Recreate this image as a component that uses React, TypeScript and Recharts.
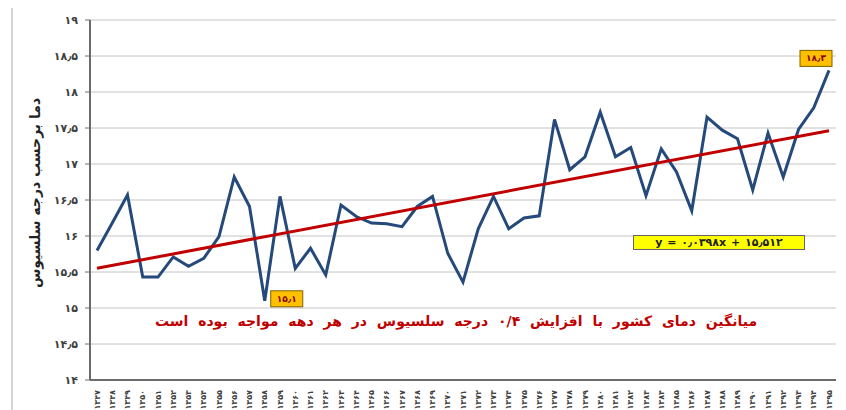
import { LineChart, Line, XAxis, YAxis, CartesianGrid, ReferenceLine } from "recharts";

const years = [
  1347, 1348, 1349, 1350, 1351, 1352, 1353, 1354, 1355, 1356, 1357, 1358, 1359, 1360, 1361, 1362, 1363,
  1364, 1365, 1366, 1367, 1368, 1369, 1370, 1371, 1372, 1373, 1374, 1375, 1376, 1377, 1378, 1379, 1380,
  1381, 1382, 1383, 1384, 1385, 1386, 1387, 1388, 1389, 1390, 1391, 1392, 1393, 1394, 1395,
];

const temps = [
  15.8, 16.18, 16.57, 15.43, 15.43, 15.71, 15.58, 15.69, 15.99, 16.82, 16.41, 15.1, 16.55, 15.55, 15.83,
  15.46, 16.43, 16.27, 16.18, 16.17, 16.13, 16.41, 16.55, 15.76, 15.36, 16.1, 16.55, 16.1, 16.25, 16.28,
  17.62, 16.92, 17.1, 17.72, 17.1, 17.23, 16.56, 17.21, 16.89, 16.35, 17.65, 17.47, 17.35, 16.64, 17.43,
  16.82, 17.48, 17.78, 18.3,
];

const yTicks = [14, 14.5, 15, 15.5, 16, 16.5, 17, 17.5, 18, 18.5, 19];

// trend line from the equation printed on the chart
const slope = 0.0398;
const intercept = 15.512;

const subtitle = "میانگین دمای کشور با افزایش ۰/۴ درجه سلسیوس در هر دهه مواجه بوده است";
const yTitle = "دما برحسب درجه سلسیوس";
const equation = "y = ۰٫۰۳۹۸x + ۱۵٫۵۱۲";

const faDigits = "۰۱۲۳۴۵۶۷۸۹";
const toFa = (v: number | string) =>
  String(v).replace(/[0-9]/g, (d) => faDigits[Number(d)]).replace(".", "٫");

const data = years.map((year, i) => ({ year, temp: temps[i] }));

const FONT = "DejaVu Sans";
const BORDER = "#6b6b6b";

const YearTick = ({ x, y, payload }: any) => (
  <text
    x={x}
    y={y + 2}
    transform={`rotate(-90 ${x} ${y + 2})`}
    textAnchor="end"
    dominantBaseline="central"
    fontSize={8}
    fontWeight="bold"
    fontFamily={FONT}
    fill="#404040"
  >
    {toFa(payload.value)}
  </text>
);

const renderPointLabel = (props: any) => {
  const { x, y, index, value } = props;
  let bx: number;
  let by: number;
  if (index === 11) {
    bx = x + 6;
    by = y - 10;
  } else if (index === temps.length - 1) {
    bx = x - 29;
    by = y - 20;
  } else {
    return null;
  }
  return (
    <g key={`lbl-${index}`}>
      <rect x={bx} y={by} width={32} height={16} fill="#ffc000" stroke="#7f6000" strokeWidth={1} />
      <text
        x={bx + 16}
        y={by + 8}
        textAnchor="middle"
        dominantBaseline="central"
        fontSize={9}
        fontWeight="bold"
        fontFamily={FONT}
        fill="#8b0000"
      >
        {toFa(value.toFixed(1))}
      </text>
    </g>
  );
};

export default function App() {
  return (
    <div
      style={{
        position: "absolute",
        left: 0,
        top: 0,
        width: 846,
        height: 410,
        background: "#fff",
        fontFamily: FONT,
        overflow: "hidden",
      }}
    >
      <div style={{ position: "absolute", left: 11, top: 8, width: 2, height: 402, background: "#d4d4d4" }} />
      <LineChart width={846} height={410} data={data} margin={{ top: 20, right: 10, bottom: 0, left: 0 }}>
        <CartesianGrid vertical={false} stroke="#c4c4c4" strokeWidth={1} />
        <XAxis
          dataKey="year"
          interval={0}
          height={30}
          padding={{ left: 7, right: 7 }}
          tickLine={false}
          axisLine={{ stroke: BORDER, strokeWidth: 2 }}
          tick={<YearTick />}
        />
        <XAxis
          xAxisId="top"
          dataKey="year"
          orientation="top"
          height={0}
          tick={false}
          tickLine={false}
          axisLine={{ stroke: BORDER, strokeWidth: 2 }}
        />
        <YAxis
          width={90}
          domain={[14, 19]}
          ticks={yTicks}
          interval={0}
          tickSize={5}
          tickMargin={7}
          tickLine={{ stroke: BORDER }}
          axisLine={{ stroke: BORDER, strokeWidth: 2 }}
          tickFormatter={(v: number) => toFa(v)}
          tick={{ fill: "#404040", fontSize: 11, fontWeight: "bold", fontFamily: FONT }}
        />
        <YAxis
          yAxisId="right"
          orientation="right"
          width={0}
          domain={[14, 19]}
          tick={false}
          tickLine={false}
          axisLine={{ stroke: BORDER, strokeWidth: 2 }}
        />
        <Line
          dataKey="temp"
          stroke="#24497a"
          strokeWidth={3}
          dot={false}
          isAnimationActive={false}
          label={renderPointLabel}
        />
        <ReferenceLine
          segment={[
            { x: years[0], y: intercept + slope * 1 },
            { x: years[years.length - 1], y: intercept + slope * years.length },
          ]}
          stroke="#c00000"
          strokeWidth={3}
          ifOverflow="visible"
        />
      </LineChart>
      <div
        style={{
          position: "absolute",
          left: 35,
          top: 193,
          transform: "translate(-50%, -50%) rotate(-90deg)",
          whiteSpace: "nowrap",
          fontSize: 14,
          fontWeight: "bold",
          color: "#222",
          direction: "rtl",
        }}
      >
        {yTitle}
      </div>
      <div
        style={{
          position: "absolute",
          left: 633,
          top: 235,
          width: 172,
          height: 15,
          boxSizing: "border-box",
          background: "#ffff00",
          border: "1px solid #666",
          fontSize: 11,
          fontWeight: "bold",
          lineHeight: "13px",
          textAlign: "center",
          color: "#222",
          direction: "ltr",
          whiteSpace: "nowrap",
          letterSpacing: 0.5,
        }}
      >
        {equation}
      </div>
      <div
        style={{
          position: "absolute",
          left: 456,
          top: 313,
          transform: "translateX(-50%)",
          direction: "rtl",
          fontSize: 14,
          fontWeight: "bold",
          color: "#c00000",
          whiteSpace: "nowrap",
          wordSpacing: 5,
        }}
      >
        {subtitle}
      </div>
    </div>
  );
}
